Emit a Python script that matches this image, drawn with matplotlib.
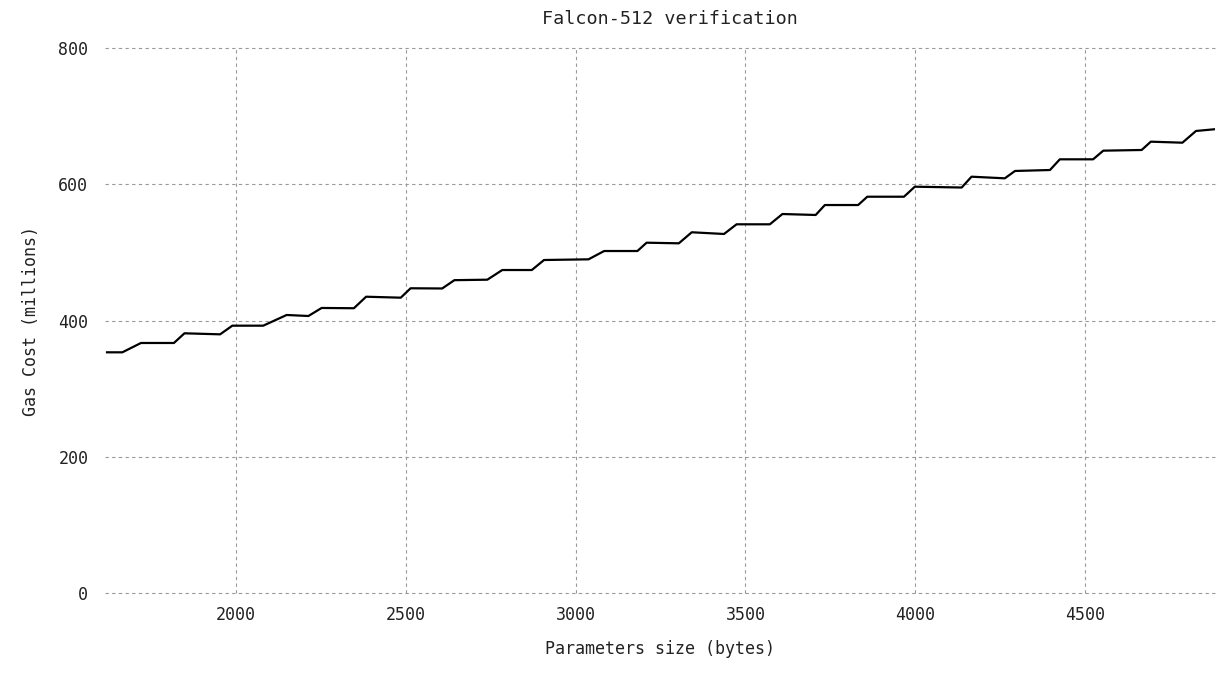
import matplotlib
matplotlib.use("Agg")
import matplotlib.pyplot as plt

# parameter size (bytes) vs gas cost (millions)
size_bytes = [1620, 1665, 1720, 1817, 1848, 1953, 1989, 2080, 2149, 2213,
              2252, 2347, 2383, 2485, 2514, 2607, 2643, 2740, 2784, 2871,
              2907, 3038, 3084, 3182, 3209, 3304, 3342, 3437, 3474, 3572,
              3609, 3707, 3734, 3832, 3859, 3967, 3999, 4137, 4166, 4264,
              4294, 4397, 4426, 4524, 4554, 4667, 4694, 4787, 4827, 4881]
gas_millions = [353.3, 353.3, 367.0, 367.0, 381.2, 379.7, 392.4, 392.4, 408.1, 406.6,
                418.4, 418.0, 434.9, 433.5, 447.3, 447.0, 459.2, 459.9, 474.1, 474.1,
                488.8, 489.8, 502.0, 502.0, 514.2, 513.3, 529.5, 527.0, 541.2, 541.2,
                556.3, 554.9, 569.5, 569.5, 581.7, 581.7, 596.4, 595.2, 611.1, 608.7,
                619.5, 620.9, 636.6, 636.6, 649.3, 650.3, 662.5, 661.0, 678.2, 680.7]
x_ticks = [2000, 2500, 3000, 3500, 4000, 4500]
y_ticks = [0, 200, 400, 600, 800]

plt.rcParams["font.family"] = "DejaVu Sans Mono"

fig = plt.figure(figsize=(12.3, 6.74), dpi=100)
ax = fig.add_axes([105 / 1230, 1 - 593 / 674, 1110 / 1230, 545 / 674])

ax.plot(size_bytes, gas_millions, color="black", linewidth=1.6)

ax.set_xlim(1614, 4883)
ax.set_ylim(0, 800)
ax.set_xticks(x_ticks)
ax.set_yticks(y_ticks)
ax.tick_params(length=0, labelsize=12, colors="#222222")
ax.tick_params(axis="y", pad=12)
ax.tick_params(axis="x", pad=9)

for s in ax.spines.values():
    s.set_visible(False)
ax.grid(True, color="#999999", linestyle=(0, (3, 3)), linewidth=0.8)
for gl in ax.get_xgridlines() + ax.get_ygridlines():
    gl.set_clip_on(False)
ax.set_axisbelow(True)

ax.set_title("Falcon-512 verification", fontsize=13.2, x=0.509, pad=17, color="#222222")
ax.set_xlabel("Parameters size (bytes)", fontsize=12, labelpad=12, color="#222222")
ax.set_ylabel("Gas Cost (millions)", fontsize=12, labelpad=13, color="#222222")

fig.savefig("out.png", dpi=100)
